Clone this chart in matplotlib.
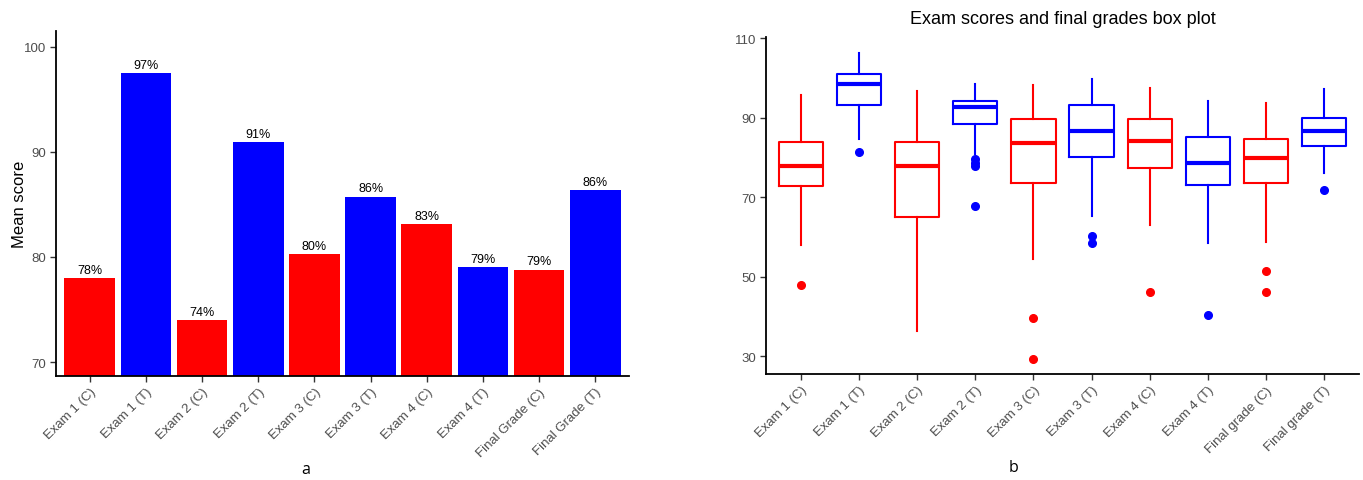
import matplotlib
matplotlib.use("Agg")
import matplotlib.pyplot as plt

# ---- data ----
bar_labels = ["Exam 1 (C)", "Exam 1 (T)", "Exam 2 (C)", "Exam 2 (T)", "Exam 3 (C)",
              "Exam 3 (T)", "Exam 4 (C)", "Exam 4 (T)", "Final Grade (C)", "Final Grade (T)"]
mean_scores = [77.97, 97.46, 73.97, 90.92, 80.26, 85.7, 83.1, 79.0, 78.8, 86.35]

box_labels = ["Exam 1 (C)", "Exam 1 (T)", "Exam 2 (C)", "Exam 2 (T)", "Exam 3 (C)",
              "Exam 3 (T)", "Exam 4 (C)", "Exam 4 (T)", "Final grade (C)", "Final grade (T)"]
whisker_low = [58.0, 84.6, 36.4, 81.0, 54.5, 65.3, 63.0, 58.5, 58.8, 76.0]
q1 = [72.9, 93.2, 65.0, 88.4, 73.5, 80.1, 77.5, 73.0, 73.7, 83.0]
medians = [77.95, 98.4, 77.8, 92.8, 83.7, 86.7, 84.1, 78.6, 79.8, 86.6]
q3 = [83.9, 100.9, 83.9, 94.2, 89.7, 93.1, 89.7, 85.2, 84.6, 90.0]
whisker_high = [95.8, 106.3, 96.7, 98.4, 98.3, 99.7, 97.5, 94.2, 93.6, 97.3]
outliers = [[47.9], [81.5], [], [79.6, 78.6, 77.9, 67.7], [39.6, 29.3],
            [60.4, 58.6], [46.2], [40.5], [51.6, 46.2], [71.8]]

group = ["C", "T"] * 5
palette = {"C": "#FF0000", "T": "#0000FF"}

plt.rcParams["font.family"] = ["Liberation Sans", "DejaVu Sans"]

fig = plt.figure(figsize=(13.63, 4.81), dpi=100)
W, H = 1363, 481


def px_axes(x0, y0, x1, y1):
    return fig.add_axes([x0 / W, 1 - y1 / H, (x1 - x0) / W, (y1 - y0) / H])


def style_axes(ax):
    for s in ("top", "right"):
        ax.spines[s].set_visible(False)
    for s in ("left", "bottom"):
        ax.spines[s].set_linewidth(1.3)
        ax.spines[s].set_color("black")
    ax.tick_params(axis="both", length=4, width=1.0, color="#333333",
                   labelsize=9.5, labelcolor="#4D4D4D", pad=3)


# ---- panel a: mean scores ----
ax1 = px_axes(56, 32, 629, 377)
xs = list(range(len(bar_labels)))
colors = [palette[g] for g in group]
ax1.bar(xs, mean_scores, width=0.9, color=colors, bottom=0)
for x, v in zip(xs, mean_scores):
    ax1.text(x, v + 0.25, f"{round(v):d}%", ha="center", va="bottom",
             fontsize=9, color="black")
ax1.set_xlim(-0.6, 9.6)
ax1.set_ylim(68.67, 101.5)
ax1.set_yticks([70, 80, 90, 100])
ax1.set_xticks(xs)
ax1.set_xticklabels(bar_labels, rotation=45, ha="right", rotation_mode="anchor")
ax1.set_ylabel("Mean score", fontsize=12, color="black")
ax1.yaxis.set_label_coords(-0.05, 0.5)
style_axes(ax1)

# ---- panel b: box plot ----
ax2 = px_axes(766, 38, 1359, 375)
stats = []
for i in range(len(box_labels)):
    stats.append(dict(whislo=whisker_low[i], q1=q1[i], med=medians[i], q3=q3[i],
                      whishi=whisker_high[i], fliers=outliers[i], label=box_labels[i]))
for i, st in enumerate(stats):
    c = palette[group[i]]
    ax2.bxp([st], positions=[i], widths=0.76, showcaps=False, patch_artist=False,
            boxprops=dict(color=c, linewidth=1.5),
            whiskerprops=dict(color=c, linewidth=1.5),
            medianprops=dict(color=c, linewidth=3),
            flierprops=dict(marker="o", markerfacecolor=c, markeredgecolor=c,
                            markersize=5.5, linestyle="none"))
ax2.set_xlim(-0.6, 9.6)
ax2.set_ylim(25.6, 110.3)
ax2.set_yticks([30, 50, 70, 90, 110])
ax2.set_xticks(range(len(box_labels)))
ax2.set_xticklabels(box_labels, rotation=45, ha="right", rotation_mode="anchor")
ax2.set_title("Exam scores and final grades box plot", fontsize=13, pad=10)
style_axes(ax2)

# panel letters
fig.text(306 / W, 1 - 470 / H, "a", ha="center", va="center", fontsize=11.5,
         family=["Open Sans", "DejaVu Sans"])
fig.text(1013 / W, 1 - 468 / H, "b", ha="center", va="center", fontsize=11.5,
         family=["Open Sans", "DejaVu Sans"])

fig.savefig("out.png", dpi=100)
